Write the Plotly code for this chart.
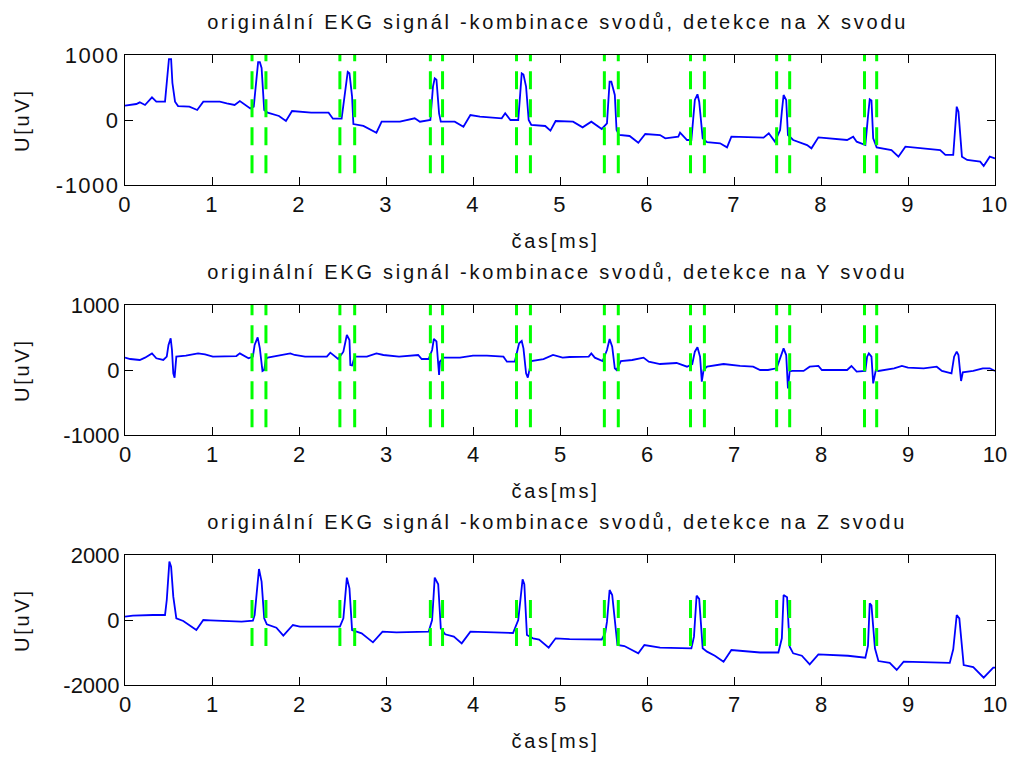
import plotly.graph_objects as go

# ---------------- data ----------------
# time axis labels
x_ticks = [0, 1, 2, 3, 4, 5, 6, 7, 8, 9, 10]

# lead X
t_x = [0.00, 0.13, 0.17, 0.23, 0.31, 0.36, 0.46, 0.48, 0.505, 0.53, 0.545, 0.575, 0.61, 0.74, 0.83, 0.90,
       1.09, 1.17, 1.26, 1.32, 1.44, 1.48, 1.50, 1.53, 1.55, 1.57, 1.60, 1.64, 1.77, 1.85, 1.92, 2.14,
       2.34, 2.39, 2.49, 2.53, 2.56, 2.58, 2.61, 2.625, 2.74, 2.89, 2.95, 3.16, 3.33, 3.39, 3.51, 3.54,
       3.56, 3.58, 3.61, 3.63, 3.79, 3.89, 3.97, 4.08, 4.33, 4.37, 4.43, 4.52, 4.54, 4.56, 4.58, 4.61,
       4.64, 4.67, 4.83, 4.89, 4.95, 5.15, 5.26, 5.36, 5.48, 5.54, 5.57, 5.59, 5.63, 5.65, 5.68, 5.80,
       5.90, 5.98, 6.15, 6.21, 6.36, 6.38, 6.46, 6.51, 6.55, 6.58, 6.60, 6.64, 6.69, 6.84, 6.92, 6.97,
       7.34, 7.40, 7.47, 7.53, 7.55, 7.57, 7.60, 7.62, 7.68, 7.84, 7.89, 7.97, 8.30, 8.37, 8.41, 8.51,
       8.54, 8.56, 8.58, 8.60, 8.64, 8.81, 8.89, 8.97, 9.37, 9.43, 9.52, 9.54, 9.56, 9.58, 9.62, 9.68,
       9.83, 9.87, 9.94, 10.0]
u_x = [220, 246, 272, 231, 349, 282, 282, 569, 938, 938, 569, 282, 215, 205, 154, 282,
       282, 256, 231, 292, 179, 205, 462, 890, 890, 800, 154, 113, 62, -15, 138, 113,
       113, 20, 20, 410, 740, 720, 359, -62, -92, -195, -26, -26, 26, -26, 0, 513,
       641, 620, 103, -26, -26, -103, 77, 51, 26, 103, 0, 0, 359, 718, 700, 513,
       0, -77, -92, -164, -15, -26, -113, -26, -138, -51, 590, 590, 385, -154, -231, -246,
       -349, -215, -231, -282, -256, -195, -308, -308, 308, 395, 282, -282, -340, -359, -421, -256,
       -272, -205, -333, -154, 128, 385, 308, -231, -308, -385, -436, -267, -308, -256, -333, -385,
       51, 318, 300, -282, -421, -462, -564, -410, -462, -538, -538, -205, 205, 128, -564, -615,
       -641, -708, -564, -590]

# lead Y
t_y = [0.00, 0.06, 0.17, 0.23, 0.31, 0.36, 0.44, 0.48, 0.50, 0.525, 0.54, 0.555, 0.57, 0.59, 0.70, 0.84,
       0.92, 1.01, 1.28, 1.32, 1.42, 1.47, 1.49, 1.525, 1.55, 1.58, 1.60, 1.62, 1.64, 1.78, 1.90, 1.95,
       2.07, 2.32, 2.36, 2.45, 2.51, 2.55, 2.58, 2.59, 2.61, 2.64, 2.78, 2.89, 2.97, 3.15, 3.31, 3.37,
       3.41, 3.49, 3.53, 3.55, 3.58, 3.60, 3.61, 3.62, 3.66, 3.85, 4.00, 4.16, 4.35, 4.39, 4.48, 4.53,
       4.56, 4.58, 4.61, 4.63, 4.67, 4.81, 4.92, 5.03, 5.11, 5.33, 5.36, 5.40, 5.49, 5.54, 5.57, 5.60,
       5.63, 5.65, 5.70, 5.83, 5.96, 6.02, 6.15, 6.34, 6.46, 6.52, 6.55, 6.58, 6.61, 6.63, 6.65, 6.69,
       6.88, 7.07, 7.22, 7.30, 7.39, 7.49, 7.54, 7.57, 7.60, 7.62, 7.64, 7.67, 7.80, 7.87, 7.97, 8.01,
       8.30, 8.35, 8.41, 8.51, 8.53, 8.55, 8.58, 8.60, 8.63, 8.66, 8.84, 8.93, 9.00, 9.18, 9.33, 9.39,
       9.50, 9.53, 9.56, 9.58, 9.61, 9.63, 9.75, 9.86, 9.94, 10.0]
u_y = [190, 169, 154, 190, 256, 180, 154, 205, 385, 487, 308, -51, -118, 205, 220, 256,
       240, 205, 215, 256, 180, 205, 385, 503, 333, -15, 0, 169, 190, 220, 256, 231,
       205, 205, 267, 169, 282, 538, 460, 77, 70, 205, 205, 256, 231, 205, 231, 231,
       169, 169, 308, 477, 440, -26, -77, 130, 190, 190, 220, 220, 205, 128, 128, 410,
       446, 333, -51, -118, 138, 169, 231, 190, 200, 205, 256, 190, 138, 308, 477, 359,
       26, 0, 138, 154, 190, 128, 92, 108, 51, 92, 282, 349, 205, -179, 0, 51,
       92, 62, 51, 0, 0, 26, 205, 333, 230, -282, -20, -15, -15, 51, 62, 0,
       0, 62, -26, -15, 205, 256, 205, -205, 0, -15, 26, 62, 36, 26, 51, -15,
       -51, 205, 282, 230, -169, -36, -15, 26, 26, -15]

# lead Z
t_z = [0.00, 0.09, 0.32, 0.46, 0.48, 0.51, 0.53, 0.555, 0.59, 0.67, 0.82, 0.90, 0.98, 1.28, 1.34, 1.47,
       1.49, 1.54, 1.57, 1.60, 1.63, 1.74, 1.82, 1.93, 2.01, 2.47, 2.51, 2.55, 2.58, 2.61, 2.72, 2.85,
       2.96, 3.12, 3.49, 3.53, 3.56, 3.60, 3.63, 3.68, 3.78, 3.87, 3.97, 4.46, 4.52, 4.57, 4.59, 4.62,
       4.69, 4.76, 4.87, 4.95, 5.11, 5.48, 5.52, 5.54, 5.57, 5.60, 5.66, 5.74, 5.90, 5.97, 6.15, 6.51,
       6.54, 6.57, 6.60, 6.64, 6.69, 6.78, 6.88, 6.97, 7.30, 7.51, 7.55, 7.57, 7.61, 7.64, 7.68, 7.78,
       7.87, 7.97, 8.31, 8.51, 8.54, 8.56, 8.58, 8.62, 8.66, 8.79, 8.87, 8.95, 9.48, 9.52, 9.56, 9.59,
       9.64, 9.75, 9.87, 9.98, 10.0]
u_z = [103, 133, 154, 154, 615, 1795, 1641, 718, 51, -31, -308, 0, -10, -51, -51, -20,
       154, 1569, 1179, 51, -133, -236, -482, -154, -205, -205, 51, 1303, 974, -308, -410, -687,
       -359, -380, -359, 0, 1303, 1100, -256, -441, -513, -718, -359, -400, 0, 1251, 1100, -462,
       -564, -600, -851, -564, -590, -600, -400, -51, 923, 769, -769, -800, -1026, -769, -851, -872,
       -513, 748, 650, -872, -974, -1100, -1282, -923, -1000, -1000, -564, 769, 700, -821, -1026, -1100,
       -1364, -1056, -1100, -1159, -800, 513, 450, -872, -1262, -1320, -1538, -1282, -1320, -900, 154, 50,
       -1385, -1450, -1774, -1467, -1467]

# detections (QRS start / end) and vertical extent of the marker lines per lead
det_start = [1.46, 2.47, 3.51, 4.50, 5.51, 6.50, 7.49, 8.50]
det_end = [1.62, 2.64, 3.65, 4.66, 5.67, 6.66, 7.64, 8.64]
det_span_x = [-820, 1100]
det_span_y = [-880, 1100]
det_span_z = [-800, 680]

titles = ["originální EKG signál -kombinace svodů, detekce na X svodu",
          "originální EKG signál -kombinace svodů, detekce na Y svodu",
          "originální EKG signál -kombinace svodů, detekce na Z svodu"]
x_label = "čas[ms]"
y_label = "U[uV]"
y_ticks_1 = [-1000, 0, 1000]
y_ticks_3 = [-2000, 0, 2000]

# ---------------- figure ----------------
FONT = "Liberation Sans, Arial, sans-serif"
fig = go.Figure()

leads = [(t_x, u_x, det_span_x, "x", "y"),
         (t_y, u_y, det_span_y, "x2", "y2"),
         (t_z, u_z, det_span_z, "x3", "y3")]

for t, u, span, xa, ya in leads:
    fig.add_trace(go.Scatter(x=t, y=u, mode="lines",
                             line=dict(color="#0000ff", width=1.8),
                             xaxis=xa, yaxis=ya, showlegend=False, hoverinfo="skip"))
    for s, e in zip(det_start, det_end):
        for xv in (s, e):
            fig.add_trace(go.Scatter(x=[xv, xv], y=span, mode="lines",
                                     line=dict(color="#00ff00", width=3, dash="18px,10px"),
                                     xaxis=xa, yaxis=ya, showlegend=False, hoverinfo="skip"))

# plot area in pixels: x 125..995, y 55..685
W, H = 1011, 758
L, R, T, B = 125, 16, 55, 73
PH = H - T - B


def py2paper(py):
    return (H - B - py) / PH


def px2paper(px):
    return (px - L) / (W - L - R)


domains = [[py2paper(185), py2paper(55)],
           [py2paper(435), py2paper(305)],
           [py2paper(685), py2paper(555)]]

axis_common = dict(showline=True, linecolor="black", linewidth=1, mirror="ticks",
                   ticks="inside", ticklen=8, tickwidth=1, tickcolor="black",
                   showgrid=False, zeroline=False, automargin=False,
                   tickfont=dict(family=FONT, size=22, color="#111111"))

layout = dict(width=W, height=H, autosize=False,
              margin=dict(l=L, r=R, t=T, b=B, autoexpand=False),
              paper_bgcolor="white", plot_bgcolor="white",
              showlegend=False)

for i in range(3):
    sx = "" if i == 0 else str(i + 1)
    yt = y_ticks_3 if i == 2 else y_ticks_1
    layout["xaxis" + sx] = dict(axis_common, domain=[0, 1], range=[0, 10],
                                tickvals=x_ticks, ticktext=[str(v) for v in x_ticks],
                                anchor="y" + sx)
    layout["yaxis" + sx] = dict(axis_common, domain=domains[i], range=[yt[0], yt[-1]],
                                tickvals=yt, ticktext=[str(v) for v in yt],
                                anchor="x" + sx)

ann = []
title_y = [22, 272, 522]
xlab_y = [241, 491, 741]
ycenter = [120, 370, 620]
for i in range(3):
    ann.append(dict(text=titles[i], xref="paper", yref="paper", x=px2paper(557), y=py2paper(title_y[i]),
                    xanchor="center", yanchor="middle", showarrow=False,
                    font=dict(family=FONT, size=20, color="#111111")))
    ann.append(dict(text=x_label, xref="paper", yref="paper", x=px2paper(555), y=py2paper(xlab_y[i]),
                    xanchor="center", yanchor="middle", showarrow=False,
                    font=dict(family=FONT, size=20, color="#111111")))
    ann.append(dict(text=y_label, xref="paper", yref="paper", x=px2paper(22), y=py2paper(ycenter[i]),
                    xanchor="center", yanchor="middle", showarrow=False, textangle=-90,
                    font=dict(family=FONT, size=20, color="#111111")))
layout["annotations"] = ann

fig.update_layout(**layout)

post = """
var st = document.createElement('style');
st.textContent = 'html,body{margin:0;padding:0;overflow:hidden;width:1011px;height:758px;}';
document.head.appendChild(st);
var gd = document.getElementById('{plot_id}');
gd.style.display = 'block';
gd.querySelectorAll('.annotation-text').forEach(function(e){
  e.style.letterSpacing = '2.75px';
});
gd.querySelectorAll('.xtick text, .ytick text').forEach(function(e){
  e.style.letterSpacing = '1.5px';
});
"""

fig.write_html("out.html", config={"displayModeBar": False}, post_script=post)
